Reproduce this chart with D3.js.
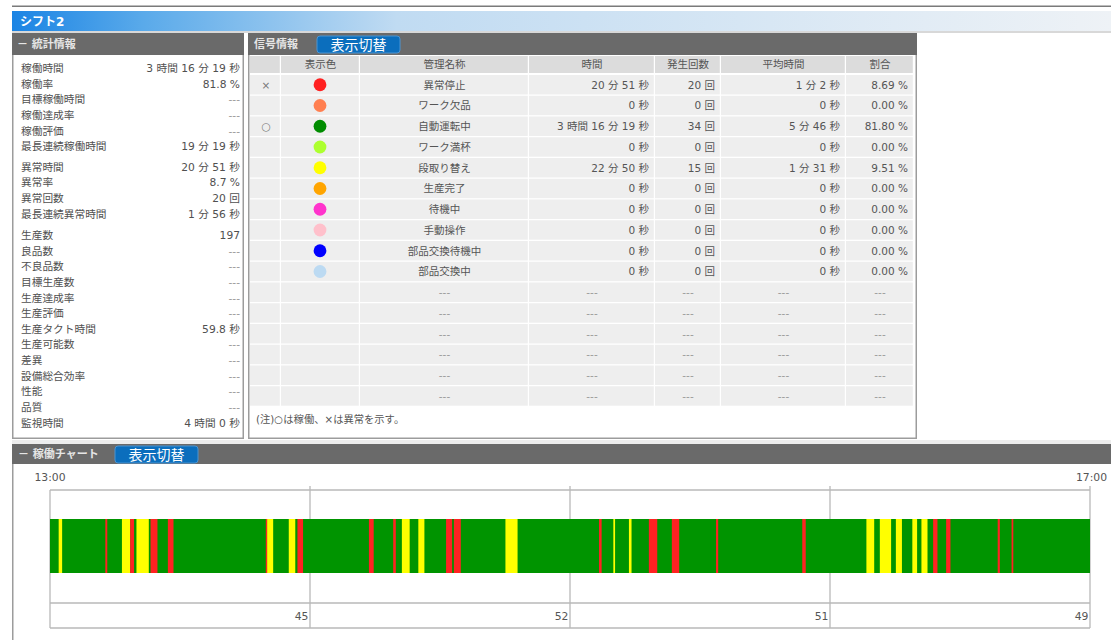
<!DOCTYPE html>
<html><head><meta charset="utf-8">
<script src="https://cdn.jsdelivr.net/npm/d3@7"></script>
<style>
html,body{margin:0;padding:0;background:#fff;}
svg{display:block;}
text{font-family:"DejaVu Sans","Noto Sans CJK JP",sans-serif;}
</style></head><body>
<svg id="c" width="1111" height="640"></svg>
<script>
// ---------------- DATA ----------------
const shiftTitle = 'シフト2';
const statsTitle = '－ 統計情報';
const signalTitle = '信号情報';
const chartTitle = '－ 稼働チャート';
const buttonLabel = '表示切替';

const statLabels = ['稼働時間','稼働率','目標稼働時間','稼働達成率','稼働評価','最長連続稼働時間',
  '異常時間','異常率','異常回数','最長連続異常時間',
  '生産数','良品数','不良品数','目標生産数','生産達成率','生産評価','生産タクト時間','生産可能数','差異','設備総合効率','性能','品質','監視時間'];
const statValues = ['3 時間 16 分 19 秒','81.8 %','---','---','---','19 分 19 秒',
  '20 分 51 秒','8.7 %','20 回','1 分 56 秒',
  '197','---','---','---','---','---','59.8 秒','---','---','---','---','---','4 時間 0 秒'];
const statGroupSizes = [6,4,13];

const tableHeaders = ['','表示色','管理名称','時間','発生回数','平均時間','割合'];
const signalMarks  = ['×','','○','','','','','','',''];
const signalNames  = ['異常停止','ワーク欠品','自動運転中','ワーク満杯','段取り替え','生産完了','待機中','手動操作','部品交換待機中','部品交換中'];
const signalColors = ['#ff2020','#ff7f50','#008c00','#adff2f','#ffff00','#ffa500','#ff33cc','#ffc0cb','#0000ff','#bcdaf2'];
const signalTimes  = ['20 分 51 秒','0 秒','3 時間 16 分 19 秒','0 秒','22 分 50 秒','0 秒','0 秒','0 秒','0 秒','0 秒'];
const signalCounts = ['20 回','0 回','34 回','0 回','15 回','0 回','0 回','0 回','0 回','0 回'];
const signalAvg    = ['1 分 2 秒','0 秒','5 分 46 秒','0 秒','1 分 31 秒','0 秒','0 秒','0 秒','0 秒','0 秒'];
const signalRatio  = ['8.69 %','0.00 %','81.80 %','0.00 %','9.51 %','0.00 %','0.00 %','0.00 %','0.00 %','0.00 %'];
const emptyRowCount = 6;
const tableNote = '(注)○は稼働、×は異常を示す。';

const hourTicks = ['13:00','14:00','15:00','16:00','17:00'];
const hourlyCounts = [45,52,51,49];
const runColor = '#009400', alarmColor = '#ff2222', setupColor = '#ffff00';
// 異常停止 segments [start, end]
const alarmSegments = [
  ['13:12:46','13:13:13'],['13:18:30','13:19:24'],['13:23:12','13:24:48'],['13:27:12','13:28:30'],
  ['13:49:48','13:50:06'],['13:57:06','13:58:24'],['14:13:36','14:14:42'],['14:19:12','14:19:48'],
  ['14:31:24','14:32:48'],['14:33:12','14:34:48'],['15:06:42','15:07:18'],['15:18:12','15:20:08'],
  ['15:23:30','15:25:12'],['15:33:42','15:34:12'],['15:53:36','15:54:24'],['16:23:48','16:24:48'],
  ['16:26:48','16:27:48'],['16:38:42','16:39:12'],['16:41:54','16:42:18']];
// 段取り替え segments [start, end]
const setupSegments = [
  ['13:02:00','13:02:48'],['13:16:36','13:18:30'],['13:19:57','13:22:48'],['13:50:06','13:51:30'],
  ['13:55:06','13:56:36'],['14:21:12','14:23:00'],['14:25:00','14:26:24'],['14:45:06','14:47:54'],
  ['15:10:00','15:10:24'],['15:13:36','15:14:12'],['16:08:24','16:10:12'],['16:11:30','16:14:06'],
  ['16:15:12','16:16:36'],['16:19:00','16:20:06'],['16:21:06','16:22:30']];

// ---------------- DRAW ----------------
const W = 1111;
const svg = d3.select('#c');
const defs = svg.append('defs');
const g = defs.append('linearGradient').attr('id','hdrGrad').attr('x1',0).attr('x2',1).attr('y1',0).attr('y2',0);
[[0,'#1b84e4'],[0.12,'#5aaaea'],[0.35,'#c0dbf2'],[1,'#eef2f6']].forEach(s=>g.append('stop').attr('offset',s[0]).attr('stop-color',s[1]));

// top line
svg.append('rect').attr('x',12).attr('y',5.5).attr('width',W-12).attr('height',1.5).attr('fill','#7a7a7a');
// shift header
svg.append('rect').attr('x',12).attr('y',11).attr('width',W-12).attr('height',20).attr('fill','url(#hdrGrad)');
svg.append('text').attr('x',20).attr('y',25.5).attr('fill','#fff').attr('font-size',12).attr('font-weight','bold').text(shiftTitle);
svg.append('rect').attr('x',12).attr('y',31).attr('width',W-12).attr('height',2).attr('fill','#d8d8d8');

function button(x,y){
  svg.append('rect').attr('x',x).attr('y',y).attr('width',83).attr('height',17).attr('rx',3)
    .attr('fill','#0b6ebd').attr('stroke','#4a94d2').attr('stroke-width',1);
  svg.append('text').attr('x',x+41.5).attr('y',y+13.5).attr('text-anchor','middle').attr('fill','#fff')
    .attr('font-size',14).text(buttonLabel);
}

// left panel
svg.append('rect').attr('x',12.75).attr('y',33.75).attr('width',230.5).attr('height',404.5)
  .attr('fill','#fff').attr('stroke','#9c9c9c').attr('stroke-width',1.5);
svg.append('rect').attr('x',12).attr('y',33).attr('width',232).attr('height',22).attr('fill','#6a6a6a');
svg.append('text').attr('x',17).attr('y',48).attr('fill','#e6e6e6').attr('font-size',11).attr('font-weight','bold').text(statsTitle);

// stats rows
const statY = [];
{
  let y = 68.3, idx = 0;
  const gaps = [20.4, 21.5];
  statGroupSizes.forEach((n,gi)=>{
    for(let k=0;k<n;k++){ statY.push(y); if(k<n-1) y += 15.62; idx++; }
    if(gi<gaps.length) y += gaps[gi];
  });
}
const statRows = svg.append('g').selectAll('g').data(statLabels).join('g');
statRows.append('text').attr('x',21).attr('y',(d,i)=>statY[i]+3.9).attr('font-size',10.7)
  .attr('fill','#505050').text(d=>d);
statRows.append('text').attr('x',240).attr('y',(d,i)=>statY[i]+3.9).attr('font-size',10.7)
  .attr('text-anchor','end').attr('fill',(d,i)=>statValues[i]==='---'?'#9a9a9a':'#505050').text((d,i)=>statValues[i]);

// right panel
svg.append('rect').attr('x',248.75).attr('y',33.75).attr('width',667.5).attr('height',404.5)
  .attr('fill','#fff').attr('stroke','#9c9c9c').attr('stroke-width',1.5);
svg.append('rect').attr('x',248).attr('y',33).attr('width',669).attr('height',22).attr('fill','#6a6a6a');
svg.append('text').attr('x',254).attr('y',48).attr('fill','#e6e6e6').attr('font-size',11).attr('font-weight','bold').text(signalTitle);
button(317,36);

const colEdges = [250,281,360,529,655,721,846,914];
const headTop = 56, headH = 18, rowTop = 74, rowH = 20.75;
const tbl = svg.append('g');
// header cells
tbl.selectAll('rect.h').data(tableHeaders).join('rect').attr('class','h')
  .attr('x',(d,i)=>colEdges[i]).attr('y',headTop).attr('width',(d,i)=>colEdges[i+1]-colEdges[i]-1.2)
  .attr('height',headH-1).attr('fill','#dcdcdc');
tbl.selectAll('text.h').data(tableHeaders).join('text').attr('class','h')
  .attr('x',(d,i)=>(colEdges[i]+colEdges[i+1])/2).attr('y',headTop+12).attr('text-anchor','middle')
  .attr('font-size',10.5).attr('fill','#555').text(d=>d);

const totalRows = signalNames.length + emptyRowCount;
const rowIdx = d3.range(totalRows);
const cellData = [];
rowIdx.forEach(r=>d3.range(7).forEach(c=>cellData.push({r,c})));
tbl.selectAll('rect.c').data(cellData).join('rect').attr('class','c')
  .attr('x',d=>colEdges[d.c]).attr('y',d=>rowTop+d.r*rowH+1)
  .attr('width',d=>colEdges[d.c+1]-colEdges[d.c]-1.2).attr('height',rowH-1.3).attr('fill','#eeeeee');

const cy = r => rowTop + r*rowH + 1 + (rowH-1.3)/2;
const sig = tbl.selectAll('g.s').data(signalNames).join('g').attr('class','s');
sig.append('text').attr('x',266).attr('y',(d,i)=>cy(i)+3.8).attr('text-anchor','middle')
  .attr('font-size',10.5).attr('fill','#777').text((d,i)=>signalMarks[i]);
sig.append('circle').attr('cx',(colEdges[1]+colEdges[2])/2-0.5).attr('cy',(d,i)=>cy(i)).attr('r',6.4)
  .attr('fill',(d,i)=>signalColors[i]);
sig.append('text').attr('x',(colEdges[2]+colEdges[3])/2).attr('y',(d,i)=>cy(i)+3.8).attr('text-anchor','middle')
  .attr('font-size',10.5).attr('fill','#555').text(d=>d);
const rightCols = [[signalTimes,3],[signalCounts,4],[signalAvg,5],[signalRatio,6]];
rightCols.forEach(([arr,c])=>{
  sig.append('text').attr('x',colEdges[c+1]-6).attr('y',(d,i)=>cy(i)+3.8).attr('text-anchor','end')
    .attr('font-size',10.5).attr('fill','#555').text((d,i)=>arr[i]);
});
const emptyRows = d3.range(signalNames.length, totalRows);
const emptyCells = [];
emptyRows.forEach(r=>[2,3,4,5,6].forEach(c=>emptyCells.push({r,c})));
tbl.selectAll('text.e').data(emptyCells).join('text').attr('class','e')
  .attr('x',d=>(colEdges[d.c]+colEdges[d.c+1])/2).attr('y',d=>cy(d.r)+3.8).attr('text-anchor','middle')
  .attr('font-size',10.5).attr('fill','#999').text('---');
svg.append('text').attr('x',256).attr('y',423).attr('font-size',10.3).attr('fill','#555').text(tableNote);

// chart section
svg.append('rect').attr('x',12).attr('y',440).attr('width',W-12).attr('height',4).attr('fill','#ededed');
svg.append('rect').attr('x',12).attr('y',444).attr('width',W-12).attr('height',20).attr('fill','#6a6a6a');
svg.append('text').attr('x',18).attr('y',458).attr('fill','#e6e6e6').attr('font-size',11).attr('font-weight','bold').text(chartTitle);
button(115,446);
svg.append('rect').attr('x',12).attr('y',464).attr('width',1.5).attr('height',176).attr('fill','#9c9c9c');

const parse = d3.timeParse('%H:%M:%S');
const tickDates = hourTicks.map(h=>parse(h+':00'));
const x = d3.scaleTime().domain([tickDates[0], tickDates[tickDates.length-1]]).range([50,1090]);
const yTop = 490, yMid = 603, yBot = 628, barY = 519, barH = 54;
const frame = svg.append('g').attr('stroke','#b9b9b9').attr('stroke-width',1.3);
[yTop,yMid,yBot].forEach(y=>frame.append('line').attr('x1',x.range()[0]).attr('x2',x.range()[1]).attr('y1',y).attr('y2',y));
frame.selectAll('line.v').data(tickDates).join('line').attr('class','v')
  .attr('x1',d=>x(d)).attr('x2',d=>x(d)).attr('y1',(d,i)=>i===0?yTop:486).attr('y2',yBot);

svg.append('g').selectAll('text').data([0,hourTicks.length-1]).join('text')
  .attr('x',i=>x(tickDates[i])+(i===0?0:1.5)).attr('y',480.5).attr('text-anchor','middle')
  .attr('font-size',10.8).attr('fill','#555').text(i=>hourTicks[i]);
svg.append('g').selectAll('text').data(hourlyCounts).join('text')
  .attr('x',(d,i)=>x(tickDates[i+1])-1.5).attr('y',619.5).attr('text-anchor','end')
  .attr('font-size',10.8).attr('fill','#555').text(d=>d);

const bar = svg.append('g');
bar.append('rect').attr('x',x(tickDates[0])).attr('y',barY)
  .attr('width',x(tickDates[tickDates.length-1])-x(tickDates[0])).attr('height',barH).attr('fill',runColor);
bar.selectAll('rect.y').data(setupSegments).join('rect').attr('class','y')
  .attr('x',d=>x(parse(d[0]))).attr('width',d=>Math.max(1,x(parse(d[1]))-x(parse(d[0]))))
  .attr('y',barY).attr('height',barH).attr('fill',setupColor);
bar.selectAll('rect.r').data(alarmSegments).join('rect').attr('class','r')
  .attr('x',d=>x(parse(d[0]))).attr('width',d=>Math.max(1,x(parse(d[1]))-x(parse(d[0]))))
  .attr('y',barY).attr('height',barH).attr('fill',alarmColor);
</script>
</body></html>
